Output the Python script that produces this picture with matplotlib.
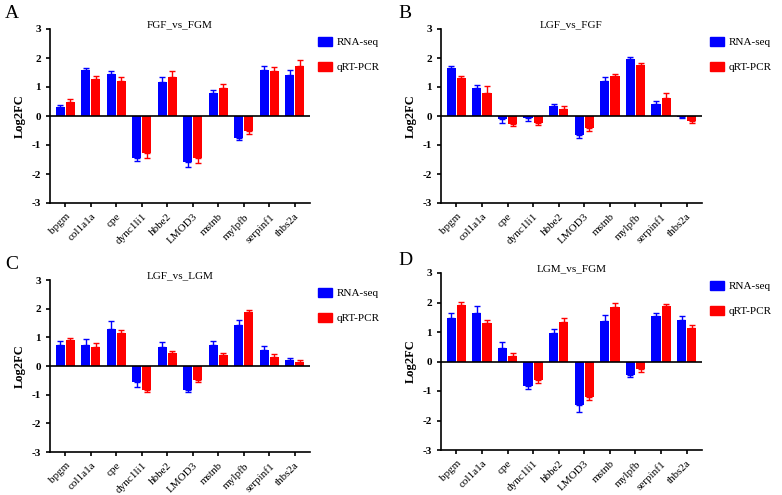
import matplotlib
matplotlib.use("Agg")
import matplotlib.pyplot as plt
import numpy as np

plt.rcParams['font.family'] = ['Liberation Serif', 'DejaVu Serif']

genes = ["bpgm", "col1a1a", "cpe", "dync1li1", "hbbe2", "LMOD3", "mstnb", "mylpfb", "serpinf1", "thbs2a"]

titles = ["FGF_vs_FGM", "LGF_vs_FGF", "LGF_vs_LGM", "LGM_vs_FGM"]
letters = ["A", "B", "C", "D"]

rna_A = [0.32, 1.57, 1.45, -1.45, 1.18, -1.58, 0.78, -0.75, 1.60, 1.42]
rna_A_err = [0.05, 0.10, 0.10, 0.10, 0.18, 0.17, 0.10, 0.07, 0.12, 0.16]
pcr_A = [0.50, 1.28, 1.22, -1.27, 1.36, -1.46, 0.97, -0.53, 1.54, 1.72]
pcr_A_err = [0.10, 0.09, 0.11, 0.17, 0.18, 0.17, 0.12, 0.10, 0.15, 0.20]

rna_B = [1.65, 0.97, -0.12, -0.08, 0.33, -0.67, 1.22, 1.95, 0.42, -0.05]
rna_B_err = [0.06, 0.09, 0.12, 0.08, 0.08, 0.10, 0.12, 0.08, 0.10, 0.03]
pcr_B = [1.30, 0.80, -0.28, -0.24, 0.23, -0.42, 1.37, 1.75, 0.62, -0.18]
pcr_B_err = [0.09, 0.22, 0.08, 0.06, 0.10, 0.08, 0.09, 0.09, 0.19, 0.07]

rna_C = [0.75, 0.75, 1.30, -0.55, 0.68, -0.83, 0.72, 1.42, 0.57, 0.22]
rna_C_err = [0.12, 0.20, 0.27, 0.18, 0.16, 0.09, 0.15, 0.18, 0.13, 0.07]
pcr_C = [0.92, 0.65, 1.14, -0.83, 0.47, -0.48, 0.40, 1.88, 0.33, 0.15]
pcr_C_err = [0.06, 0.15, 0.13, 0.08, 0.06, 0.08, 0.07, 0.09, 0.10, 0.06]

rna_D = [1.48, 1.66, 0.45, -0.83, 0.97, -1.48, 1.37, -0.45, 1.53, 1.42]
rna_D_err = [0.17, 0.21, 0.21, 0.09, 0.14, 0.23, 0.19, 0.08, 0.10, 0.12]
pcr_D = [1.93, 1.32, 0.20, -0.62, 1.35, -1.20, 1.85, -0.25, 1.88, 1.13]
pcr_D_err = [0.10, 0.10, 0.10, 0.10, 0.12, 0.10, 0.13, 0.09, 0.06, 0.10]

panels = [(rna_A, rna_A_err, pcr_A, pcr_A_err), (rna_B, rna_B_err, pcr_B, pcr_B_err),
          (rna_C, rna_C_err, pcr_C, pcr_C_err), (rna_D, rna_D_err, pcr_D, pcr_D_err)]

W, H = 782, 495
fig = plt.figure(figsize=(W/100, H/100), dpi=100)
rects = [(50, 29, 310, 203), (441, 29, 702, 203), (50, 280, 310, 452), (441, 273, 702, 450)]
letter_pos = [(5, 5), (398, 5), (5, 256), (398, 252)]

blue = "#0000FF"
red = "#FF0000"
for i, (r, re, p, pe) in enumerate(panels):
    l, t, rr, b = rects[i]
    ax = fig.add_axes([l/W, 1-b/H, (rr-l)/W, (b-t)/H])
    x = np.arange(len(genes))
    w = 0.36
    r = np.array(r); p = np.array(p); re = np.array(re); pe = np.array(pe)
    for vals, errs, off, c in [(r, re, -0.2, blue), (p, pe, 0.2, red)]:
        ax.bar(x+off, vals, w, color=c, zorder=2)
        yerr = np.vstack([np.where(vals < 0, errs, 0), np.where(vals >= 0, errs, 0)])
        ax.errorbar(x+off, vals, yerr=yerr, fmt='none', ecolor=c, elinewidth=1, capsize=2, capthick=1, zorder=3)
    ax.axhline(0, color='black', lw=1.2, zorder=4)
    ax.set_ylim(-3, 3)
    ax.set_xlim(-0.6, 9.6)
    ax.set_yticks([-3, -2, -1, 0, 1, 2, 3])
    ax.set_yticklabels(["-3", "-2", "-1", "0", "1", "2", "3"], fontweight='bold', fontsize=8)
    ax.set_xticks(x)
    ax.set_xticklabels(genes, rotation=45, ha='right', rotation_mode='anchor', fontsize=8)
    ax.spines['top'].set_visible(False)
    ax.spines['right'].set_visible(False)
    ax.spines['left'].set_linewidth(1.2)
    ax.spines['bottom'].set_linewidth(1.2)
    ax.tick_params(width=1.2, length=3)
    ax.set_ylabel("Log2FC", fontweight='bold', fontsize=9)
    ax.set_title(titles[i], fontsize=8, pad=-4)
    ax.legend([plt.Rectangle((0, 0), 1, 1, color=blue), plt.Rectangle((0, 0), 1, 1, color=red)],
              ["RNA-seq", "qRT-PCR"], loc='upper left', bbox_to_anchor=(1.0, 1.0),
              frameon=False, fontsize=8, handlelength=1.3, handleheight=0.9, labelspacing=1.3,
              handletextpad=0.4, borderaxespad=0.3)
    fig.text(letter_pos[i][0]/W, 1-letter_pos[i][1]/H, letters[i], fontsize=14, va='top')

fig.savefig("out.png", dpi=100)
